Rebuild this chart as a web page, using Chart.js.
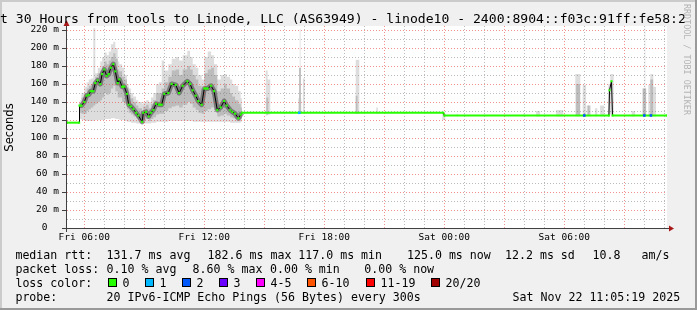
<!DOCTYPE html>
<html>
<head>
<meta charset="utf-8">
<script src="https://cdn.jsdelivr.net/npm/chart.js@4.4.1/dist/chart.umd.min.js"></script>
<style>
  html, body { margin: 0; padding: 0; background: #f0f0f0; }
  canvas { display: block; }
</style>
</head>
<body>
<canvas id="smoke" width="697" height="310"></canvas>
<script>
// time axis: hours since Fri 00:00
var medT = [5.13, 5.74, 5.76, 5.86, 6.00, 6.12, 6.22, 6.33, 6.45, 6.55, 6.67, 6.80, 6.89, 7.00, 7.12, 7.22,
  7.33, 7.45, 7.55, 7.67, 7.75, 7.89, 8.00, 8.13, 8.22, 8.33, 8.45, 8.59, 8.70, 8.89, 8.95, 9.09,
  9.22, 9.33, 9.45, 9.59, 9.73, 9.87, 10.00, 10.20, 10.37, 10.57, 10.74, 10.92, 11.15, 11.29, 11.42,
  11.57, 11.70, 11.87, 12.00, 12.17, 12.34, 12.49, 12.65, 12.82, 12.99, 13.12, 13.29, 13.40, 13.54,
  13.70, 13.82, 13.88, 23.95, 24.00, 32.23, 32.26, 32.36, 32.41, 35.13];
var medV = [117, 117, 136, 136, 140, 147, 148, 152, 152, 161, 164, 160, 171, 176, 169, 171,
  178, 182, 174, 161, 165, 157, 157, 149, 137, 135, 132, 128, 125, 118, 128, 129,
  124, 128, 131, 138, 137, 137, 149, 150, 160, 159, 150, 158, 163, 160, 153,
  147, 141, 137, 155, 155, 158, 152, 131, 134, 141, 136, 131, 129, 127,
  122, 126, 128, 128, 125, 125, 153, 163, 125, 125];

// outer smoke (min / max ping)
var smokeT = [5.76, 5.86, 6.00, 6.12, 6.22, 6.33, 6.45, 6.55, 6.67, 6.80, 6.89, 7.00, 7.12, 7.22,
  7.33, 7.45, 7.55, 7.67, 7.75, 7.89, 8.00, 8.13, 8.22, 8.33, 8.45, 8.59, 8.70, 8.89, 8.95, 9.09,
  9.22, 9.33, 9.45, 9.59, 9.73, 9.87, 10.00, 10.20, 10.37, 10.57, 10.74, 10.92, 11.15, 11.29, 11.42,
  11.57, 11.70, 11.87, 12.00, 12.17, 12.34, 12.49, 12.65, 12.82, 12.99, 13.12, 13.29, 13.40, 13.54,
  13.70, 13.82, 13.88,
  15.07, 15.17, 15.30, 16.29, 16.34, 16.70, 16.77, 16.81, 16.85, 16.93, 17.02, 18.37, 18.42,
  19.57, 19.75, 20.60, 20.68, 21.37, 21.42, 22.12, 22.17, 23.90, 24.05, 24.62, 24.67,
  27.95, 28.00, 28.59, 28.79, 29.59, 29.95, 30.55, 30.80, 30.92, 31.09, 31.12, 31.32,
  31.54, 31.65, 31.79, 31.99, 32.20, 32.30, 32.47, 33.37, 33.54, 33.92, 34.02, 34.05, 34.09,
  34.20, 34.30, 34.45, 34.59];
var smokeLo = [121, 120, 119, 119, 119, 119, 119, 120, 120, 120, 120, 121, 121, 121,
  122, 122, 121, 121, 120, 120, 119, 118, 118, 117, 117, 116, 116, 115, 116, 116,
  116, 117, 117, 118, 118, 118, 118, 119, 119, 119, 119, 119, 119, 119, 118,
  118, 118, 118, 118, 118, 118, 118, 118, 118, 118, 118, 117, 117, 117,
  117, 118, 128,
  125, 126, 128, 127, 128, 127, 127, 127, 128, 127, 128, 127, 128,
  127, 128, 127, 128, 127, 128, 127, 128, 120, 125, 124, 125,
  124, 125, 124, 125, 124, 125, 124, 125, 124, 125, 124, 125,
  124, 125, 124, 125, 124, 126, 125, 124, 125, 124, 124, 124, 125,
  124, 124, 124, 125];
var smokeHi = [142, 150, 157, 162, 165, 166, 222, 172, 178, 185, 190, 195, 192, 196,
  204, 207, 200, 185, 182, 178, 170, 160, 155, 150, 146, 142, 140, 138, 140, 142,
  140, 145, 150, 160, 162, 186, 175, 182, 188, 190, 186, 192, 197, 190, 182,
  178, 170, 165, 190, 196, 192, 182, 165, 170, 171, 168, 165, 160, 158,
  152, 144, 128,
  175, 165, 128, 130, 128, 144, 221, 144, 128, 166, 128, 129, 128,
  187, 128, 134, 128, 129, 128, 129, 128, 128, 125, 127, 125,
  127, 125, 130, 125, 131, 125, 171, 125, 159, 125, 136, 125,
  133, 125, 136, 125, 160, 171, 125, 130, 125, 155, 223, 155, 125,
  159, 171, 157, 125];

// inner smoke (middle pings)
var midT = [5.76, 5.86, 6.00, 6.12, 6.22, 6.33, 6.45, 6.55, 6.67, 6.80, 6.89, 7.00, 7.12, 7.22,
  7.33, 7.45, 7.55, 7.67, 7.75, 7.89, 8.00, 8.13, 8.22, 8.33, 8.45, 8.59, 8.70, 8.89, 8.95, 9.09,
  9.22, 9.33, 9.45, 9.59, 9.73, 9.87, 10.00, 10.20, 10.37, 10.57, 10.74, 10.92, 11.15, 11.29, 11.42,
  11.57, 11.70, 11.87, 12.00, 12.17, 12.34, 12.49, 12.65, 12.82, 12.99, 13.12, 13.29, 13.40, 13.54,
  13.70, 13.82, 13.88,
  15.10, 15.20, 16.74, 16.83, 19.57, 19.66, 30.59, 30.79, 31.17, 31.27, 33.92, 34.09, 34.30, 34.45];
var midLo = [128, 127, 127, 130, 132, 134, 136, 138, 140, 142, 145, 150, 148, 150,
  155, 158, 152, 145, 145, 140, 138, 132, 128, 126, 124, 122, 120, 117, 120, 121,
  119, 121, 123, 126, 127, 127, 130, 133, 135, 136, 134, 137, 140, 138, 134,
  131, 128, 127, 130, 132, 134, 131, 124, 125, 127, 125, 123, 122, 121,
  119, 121, 128,
  126, 128, 127, 128, 127, 128, 125, 125, 125, 125, 125, 125, 125, 125];
var midHi = [138, 145, 150, 155, 158, 160, 162, 168, 172, 175, 180, 185, 182, 186,
  190, 194, 188, 176, 174, 168, 165, 156, 148, 144, 140, 136, 133, 128, 135, 137,
  133, 138, 142, 150, 150, 155, 162, 168, 175, 176, 170, 176, 180, 176, 170,
  165, 158, 155, 172, 176, 178, 170, 152, 155, 160, 155, 150, 146, 142,
  138, 134, 128,
  145, 128, 178, 128, 147, 128, 160, 125, 136, 125, 155, 125, 165, 125];

// samples with packet loss (count of 20)
var lossT = [16.75, 31.00, 34.00, 34.33];
var lossV = [128, 125, 125, 125];
var lossN = [1, 2, 2, 2];

var hourTicks = [6, 7, 8, 9, 10, 11, 12, 13, 14, 15, 16, 17, 18, 19, 20, 21, 22, 23, 24,
  25, 26, 27, 28, 29, 30, 31, 32, 33, 34, 35];

var lossLabels = ['0', '1', '2', '3', '4-5', '6-10', '11-19', '20/20'];
var lossColors = ['#26ff00', '#00b8ff', '#0059ff', '#6a00ff', '#ff00ff', '#ff5500', '#ff0000', '#a10000'];

var statsRtt = ['131.7 ms avg', '182.6 ms max', '117.0 ms min', '125.0 ms now', '12.2 ms sd', '10.8', 'am/s'];
var statsLoss = ['0.10 % avg', '8.60 % max', '0.00 % min', '0.00 % now'];
var probeText = '20 IPv6-ICMP Echo Pings (56 Bytes) every 300s';
var stamp = 'Sat Nov 22 11:05:19 2025';
var title = 't 30 Hours from tools to Linode, LLC (AS63949) - linode10 - 2400:8904::f03c:91ff:fe58:2';

var MONO = '"DejaVu Sans Mono", monospace';
var green = lossColors[0];
var redGrid = 'rgba(235, 70, 70, 0.6)';
var greyGrid = 'rgba(120, 120, 120, 0.5)';

function pts(t, v) {
  return t.map(function(x, i) { return {x: x, y: v[i]}; });
}
function lossColor(n) {
  if (n <= 3) return lossColors[n];
  if (n <= 5) return lossColors[4];
  if (n <= 10) return lossColors[5];
  if (n <= 19) return lossColors[6];
  return lossColors[7];
}
function flat(c) { return c.p0.parsed.y === c.p1.parsed.y; }

// dotted rrdtool style grid, drawn over the smoke but under the median
function drawGrid(chart) {
  var ctx = chart.ctx, a = chart.chartArea, xs = chart.scales.x, ys = chart.scales.y;
  ctx.save();
  ctx.lineWidth = 1;
  ctx.setLineDash([1, 2]);
  xs.ticks.forEach(function(t) {
    var px = Math.round(xs.getPixelForValue(t.value)) + 0.5;
    ctx.strokeStyle = t.value % 3 === 0 ? redGrid : greyGrid;
    ctx.beginPath(); ctx.moveTo(px, a.top); ctx.lineTo(px, a.bottom); ctx.stroke();
  });
  ys.ticks.forEach(function(t) {
    if (t.value === 0) return;
    var py = Math.round(ys.getPixelForValue(t.value)) + 0.5;
    ctx.strokeStyle = t.value % 20 === 0 ? redGrid : greyGrid;
    ctx.beginPath(); ctx.moveTo(a.left, py); ctx.lineTo(a.right, py); ctx.stroke();
  });
  ctx.restore();
}

var frame = {
  id: 'frame',
  beforeDraw: function(chart) {
    var ctx = chart.ctx, a = chart.chartArea;
    ctx.save();
    ctx.fillStyle = '#f0f0f0';
    ctx.fillRect(0, 0, 697, 310);
    ctx.fillStyle = '#cbcbcb';
    ctx.fillRect(0, 0, 697, 2);
    ctx.fillRect(0, 0, 2, 310);
    ctx.fillStyle = '#999999';
    ctx.fillRect(0, 308, 697, 2);
    ctx.fillRect(695, 0, 2, 310);
    ctx.fillStyle = '#ffffff';
    ctx.fillRect(a.left, a.top, a.right - a.left, a.bottom - a.top);
    ctx.restore();
  },
  beforeDatasetDraw: function(chart, args) {
    if (args.index === 0) drawGrid(chart);
  },
  afterDraw: function(chart) {
    var ctx = chart.ctx, a = chart.chartArea, ys = chart.scales.y;
    ctx.save();
    // axes, tick marks and arrows
    ctx.fillStyle = '#404040';
    ctx.fillRect(a.left - 1, a.top - 3, 1, a.bottom - a.top + 7);
    ctx.fillRect(a.left - 4, a.bottom, a.right - a.left + 8, 1);
    ys.ticks.forEach(function(t) {
      if (t.value % 20 !== 0) return;
      ctx.fillRect(a.left - 5, Math.round(ys.getPixelForValue(t.value)), 4, 1);
    });
    ctx.fillStyle = '#a81818';
    ctx.beginPath();
    ctx.moveTo(a.left - 0.5, a.top - 6); ctx.lineTo(a.left - 3.5, a.top); ctx.lineTo(a.left + 2.5, a.top);
    ctx.fill();
    ctx.beginPath();
    ctx.moveTo(a.right + 7, a.bottom + 0.5); ctx.lineTo(a.right + 2, a.bottom - 2.5); ctx.lineTo(a.right + 2, a.bottom + 3.5);
    ctx.fill();

    // title
    ctx.fillStyle = '#000';
    ctx.textAlign = 'left';
    ctx.textBaseline = 'alphabetic';
    ctx.font = '13.1px ' + MONO;
    ctx.fillText(title, 0, 22.5);

    // y axis title
    ctx.save();
    ctx.translate(10, 127.5);
    ctx.rotate(-Math.PI / 2);
    ctx.textAlign = 'center';
    ctx.textBaseline = 'middle';
    ctx.font = '11.5px "DejaVu Sans", sans-serif';
    ctx.fillText('Seconds', 0, 0);
    ctx.restore();

    // watermark
    ctx.save();
    ctx.translate(686, 4);
    ctx.rotate(Math.PI / 2);
    ctx.fillStyle = '#b4b4b4';
    ctx.textBaseline = 'middle';
    ctx.font = '8.4px ' + MONO;
    ctx.fillText('RRDTOOL / TOBI OETIKER', 0, 0);
    ctx.restore();

    // legend block
    var rows = [258.8, 272.8, 286.8, 300.6];
    ctx.font = '11.6px ' + MONO;
    ctx.fillStyle = '#000';
    ctx.fillText('median rtt:', 15.4, rows[0]);
    var rttX = [106.6, 207.6, 298.3, 407, 505, 592.6, 641.6];
    statsRtt.forEach(function(s, i) { ctx.fillText(s, rttX[i], rows[0]); });
    ctx.fillText('packet loss:', 15.4, rows[1]);
    var lossX = [106.6, 192.6, 270, 364.3];
    statsLoss.forEach(function(s, i) { ctx.fillText(s, lossX[i], rows[1]); });
    ctx.fillText('loss color:', 15.4, rows[2]);
    var boxX = [108, 145, 182, 219, 256, 307, 366, 431];
    lossLabels.forEach(function(s, i) {
      ctx.fillStyle = '#000';
      ctx.fillRect(boxX[i], 278, 9, 9);
      ctx.fillStyle = lossColors[i];
      ctx.fillRect(boxX[i] + 1, 279, 7, 7);
      ctx.fillStyle = '#000';
      ctx.fillText(s, boxX[i] + 14.6, rows[2]);
    });
    ctx.fillText('probe:', 15.4, rows[3]);
    ctx.fillText(probeText, 106.6, rows[3]);
    ctx.fillText(stamp, 512.6, rows[3]);
    ctx.restore();
  }
};

new Chart(document.getElementById('smoke'), {
  type: 'line',
  data: {
    datasets: [
      {
        label: 'median',
        data: pts(medT, medV),
        borderColor: '#000',
        borderWidth: 1,
        borderJoinStyle: 'bevel',
        pointStyle: 'rect',
        pointRadius: 1.5,
        pointBackgroundColor: green,
        pointBorderWidth: 0,
        order: 0,
        segment: {
          borderColor: function(c) { return flat(c) ? green : '#000'; },
          borderWidth: function(c) { return flat(c) ? 2 : 1; }
        }
      },
      {
        label: 'loss',
        data: pts(lossT, lossV),
        showLine: false,
        pointStyle: 'rect',
        pointRadius: 1.8,
        pointBackgroundColor: lossN.map(lossColor),
        pointBorderWidth: 0,
        order: -1
      },
      {
        label: 'core',
        data: pts(medT, medV),
        borderColor: 'rgba(0,0,0,0)',
        borderWidth: 5,
        borderJoinStyle: 'round',
        pointRadius: 0,
        order: 1,
        segment: {
          borderColor: function(c) {
            return (c.p0.parsed.x >= 5.75 && c.p1.parsed.x <= 13.9) ? 'rgba(40,40,40,0.45)' : 'rgba(0,0,0,0)';
          }
        }
      },
      { label: 'midLo', data: pts(midT, midLo), stepped: true, borderWidth: 0, pointRadius: 0, fill: false, order: 2 },
      { label: 'midHi', data: pts(midT, midHi), stepped: true, borderWidth: 0, pointRadius: 0, fill: '-1', backgroundColor: '#bcbcbc', order: 2 },
      { label: 'minPing', data: pts(smokeT, smokeLo), stepped: true, borderWidth: 0, pointRadius: 0, fill: false, order: 3 },
      { label: 'maxPing', data: pts(smokeT, smokeHi), stepped: true, borderWidth: 0, pointRadius: 0, fill: '-1', backgroundColor: '#dddddd', order: 3 }
    ]
  },
  options: {
    responsive: false,
    devicePixelRatio: 1,
    animation: false,
    events: [],
    layout: { padding: { top: 26, right: 30, left: 0, bottom: 0 }, autoPadding: false },
    plugins: { legend: { display: false }, tooltip: { enabled: false } },
    scales: {
      x: {
        type: 'linear',
        min: 5.135,
        max: 35.135,
        afterFit: function(s) { s.height = 82; },
        afterBuildTicks: function(s) {
          s.ticks = hourTicks.map(function(h) { return {value: h}; });
        },
        border: { display: false },
        grid: { display: false, drawTicks: false },
        ticks: {
          autoSkip: false,
          maxRotation: 0,
          padding: 4,
          color: '#000',
          font: { family: 'DejaVu Sans Mono', size: 9.5 },
          callback: function(v) {
            if (v % 6 !== 0) return '';
            var h = v % 24;
            return (v < 24 ? 'Fri ' : 'Sat ') + (h < 10 ? '0' : '') + h + ':00';
          }
        }
      },
      y: {
        type: 'linear',
        min: 0,
        max: 224.4,
        afterFit: function(s) { s.width = 67; },
        border: { display: false },
        grid: { display: false, drawTicks: false },
        ticks: {
          stepSize: 10,
          includeBounds: false,
          autoSkip: false,
          padding: 8,
          color: '#000',
          font: { family: 'DejaVu Sans Mono', size: 9.5 },
          callback: function(v) {
            if (v % 20 !== 0) return '';
            return v === 0 ? '0  ' : v + ' m';
          }
        }
      }
    }
  },
  plugins: [frame]
});
</script>
</body>
</html>
